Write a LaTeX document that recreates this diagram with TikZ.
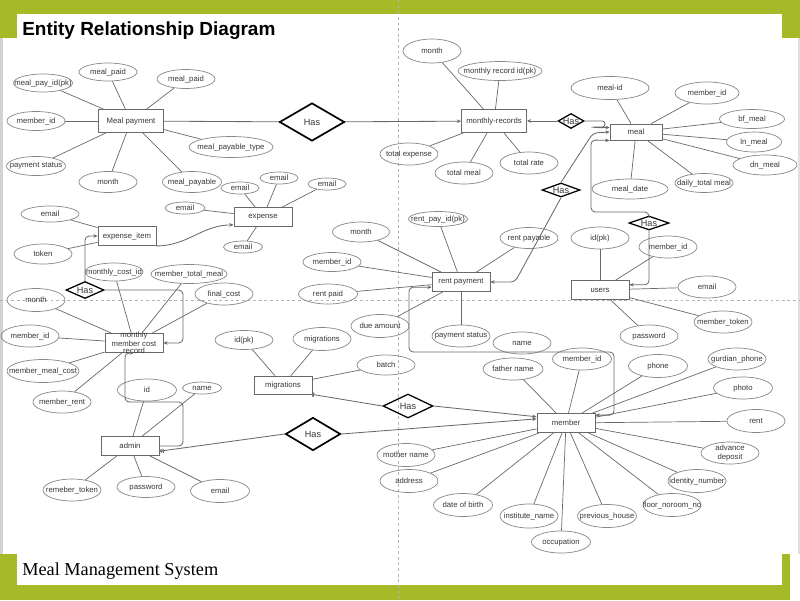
\documentclass[tikz,border=0pt]{standalone}
\usepackage{fontspec}
\usetikzlibrary{shapes.geometric,arrows.meta}
\newfontfamily\erfont{Liberation Sans}
\newfontfamily\slidefont{Liberation Serif}

\definecolor{slidegreen}{RGB}{166,185,38}
\definecolor{edgegray}{RGB}{105,105,105}
\definecolor{ovalgray}{RGB}{135,135,135}
\definecolor{txtgray}{RGB}{55,55,55}
\definecolor{guidegray}{RGB}{180,180,180}

\tikzset{
  fixtext/.style={execute at begin node={\hbox to 0pt\bgroup\hss}, execute at end node={\hss\egroup}},
  attr/.style={ellipse, draw=ovalgray, line width=0.5pt, minimum width=1.45cm, minimum height=0.55cm,
    inner sep=0pt, text=txtgray, fixtext},
  entity/.style={rectangle, draw=edgegray, line width=0.6pt, minimum width=1.45cm, minimum height=0.475cm,
    inner sep=0pt, text=txtgray, fixtext},
  rel/.style={diamond, draw=black, line width=0.9pt, inner sep=0pt, text=txtgray,
    font=\erfont\fontsize{6.5}{7}\selectfont, fixtext},
  attrlink/.style={draw=edgegray, line width=0.5pt},
  conn/.style={draw=edgegray, line width=0.6pt, rounded corners=3pt},
  guide/.style={draw=guidegray, line width=0.5pt, dash pattern=on 2pt off 2pt},
}

\begin{document}
\begin{tikzpicture}[x=0.025cm, y=-0.025cm, >={Stealth[length=3pt,width=2.6pt]},
  every node/.style={font=\erfont\fontsize{5.5}{6}\selectfont}]
\useasboundingbox (0,0) rectangle (800,600);

% slide frame
\fill[white] (0,0) rectangle (800,600);
\fill[gray!35] (0,38) rectangle (2.5,554);
\fill[gray!25] (798,38) rectangle (800,554);
\fill[slidegreen] (0,0) rectangle (800,14);
\fill[slidegreen] (0,0) rectangle (17,38);
\fill[slidegreen] (782,0) rectangle (800,38);
\fill[slidegreen] (0,585) rectangle (790,600);
\fill[slidegreen] (0,554) rectangle (17,600);
\fill[slidegreen] (782,554) rectangle (790,600);
\draw[guide] (398,0) -- (398,600);
\draw[guide] (0,300) -- (800,300);

\node[anchor=base west, inner sep=0pt, font=\erfont\bfseries\fontsize{13.5}{15}\selectfont] (title) at (22,35) {Entity Relationship Diagram};
\node[anchor=base west, inner sep=0pt, font=\slidefont\fontsize{13}{15}\selectfont] (subtitle) at (22,575) {Meal Management System};

% entities
\node[entity, minimum width=1.625cm, minimum height=0.575cm] (mpay) at (131,121) {Meal payment};
\node[entity, minimum width=1.625cm, minimum height=0.575cm] (mrec) at (494,121) {monthly-records};
\node[entity, minimum width=1.3cm, minimum height=0.4cm] (meal) at (636,132) {meal};
\node[entity] (expense) at (263,217) {expense};
\node[entity] (eitem) at (127,236) {expense\_item};
\node[entity] (rpay) at (461,282) {rent payment};
\node[entity] (users) at (600,290) {users};
\node[entity, label={[align=center, text=txtgray, font=\erfont\fontsize{5.5}{5}\selectfont]center:{monthly\\member cost\\record}}] (mmcr) at (134,343) {};
\node[entity, minimum height=0.45cm] (migr) at (283,385) {migrations};
\node[entity] (admin) at (130,446) {admin};
\node[entity] (member) at (566,423) {member};

% relationships
\node[rel, line width=1.2pt, minimum width=1.625cm, minimum height=0.95cm] (has1) at (312,122) {Has};
\node[rel, minimum width=0.65cm, minimum height=0.375cm] (has2) at (571,121) {Has};
\node[rel, minimum width=0.95cm, minimum height=0.35cm] (has3) at (561,190) {Has};
\node[rel, minimum width=1.0cm, minimum height=0.35cm] (has4) at (649,223) {Has};
\node[rel, minimum width=0.95cm, minimum height=0.425cm] (has5) at (85,290) {Has};
\node[rel, minimum width=1.25cm, minimum height=0.6cm] (has6) at (408,406) {Has};
\node[rel, line width=1.2pt, minimum width=1.375cm, minimum height=0.825cm] (has7) at (313,434) {Has};

% Meal payment attributes
\node[attr, minimum width=1.475cm, minimum height=0.45cm] (mpid) at (43,83) {meal\_pay\_id(pk)};
\node[attr, minimum height=0.45cm] (mppaidA) at (108,72) {meal\_paid};
\node[attr, minimum height=0.475cm] (mppaidB) at (186,79) {meal\_paid};
\node[attr, minimum height=0.475cm] (mpmem) at (36,121) {member\_id};
\node[attr, minimum width=1.475cm, minimum height=0.475cm] (mpstat) at (36,166) {payment status};
\node[attr, minimum height=0.525cm] (mpmonth) at (108,182) {month};
\node[attr, minimum width=1.475cm, minimum height=0.525cm] (mppay) at (192,182) {meal\_payable};
\node[attr, minimum width=2.1cm, minimum height=0.525cm] (mptype) at (231,147) {meal\_payable\_type};
\foreach \a in {mpid,mppaidA,mppaidB,mpmem,mpstat,mpmonth,mppay,mptype}
  \path[attrlink] (\a) edge (mpay);

% monthly-records attributes
\node[attr, minimum height=0.6cm] (mrmonth) at (432,51) {month};
\node[attr, minimum width=2.1cm, minimum height=0.475cm] (mrid) at (500,71) {monthly record id(pk)};
\node[attr] (mrexp) at (409,154) {total expense};
\node[attr] (mrmeal) at (464,173) {total meal};
\node[attr] (mrrate) at (529,163) {total rate};
\foreach \a in {mrmonth,mrid,mrexp,mrmeal,mrrate}
  \path[attrlink] (\a) edge (mrec);

% meal attributes
\node[attr, minimum width=1.95cm, minimum height=0.575cm] (mlid) at (610,88) {meal-id};
\node[attr, minimum width=1.6cm] (mlmem) at (707,93) {member\_id};
\node[attr, minimum width=1.625cm, minimum height=0.475cm] (mlbf) at (752,119) {bf\_meal};
\node[attr, minimum width=1.375cm, minimum height=0.5cm] (mlln) at (754,142) {ln\_meal};
\node[attr, minimum width=1.6cm, minimum height=0.5cm] (mldn) at (765,165) {dn\_meal};
\node[attr, minimum height=0.475cm] (mltotal) at (704,183) {daily\_total meal};
\node[attr, minimum width=1.9cm, minimum height=0.5cm] (mldate) at (630,189) {meal\_date};
\foreach \a in {mlid,mlmem,mlbf,mlln,mldn,mltotal,mldate}
  \path[attrlink] (\a) edge (meal);

% expense attributes
\node[attr, minimum width=1.0cm, minimum height=0.3cm] (exA) at (185,208) {email};
\node[attr, minimum width=0.95cm, minimum height=0.3cm] (exB) at (240,188) {email};
\node[attr, minimum width=0.95cm, minimum height=0.3cm] (exC) at (279,178) {email};
\node[attr, minimum width=0.95cm, minimum height=0.3cm] (exD) at (327,184) {email};
\node[attr, minimum width=0.975cm, minimum height=0.3cm] (exE) at (243,247) {email};
\foreach \a in {exA,exB,exC,exD,exE}
  \path[attrlink] (\a) edge (expense);

% expense_item attributes
\node[attr, minimum height=0.4cm] (eimail) at (50,214) {email};
\node[attr, minimum height=0.5cm] (eitoken) at (43,254) {token};
\foreach \a in {eimail,eitoken}
  \path[attrlink] (\a) edge (eitem);

% monthly member cost record attributes
\node[attr, minimum height=0.45cm] (mcid) at (114,272) {monthly\_cost\_id};
\node[attr, minimum width=1.9cm, minimum height=0.475cm] (mctotal) at (189,274) {member\_total\_meal};
\node[attr] (mcfinal) at (224,294) {final\_cost};
\node[attr, minimum height=0.575cm] (mcmonth) at (36,300) {month};
\node[attr] (mcmem) at (30,336) {member\_id};
\node[attr, minimum width=1.8cm, minimum height=0.575cm] (mcmeal) at (43,371) {member\_meal\_cost};
\node[attr] (mcrent) at (62,402) {member\_rent};
\foreach \a in {mcid,mctotal,mcfinal,mcmonth,mcmem,mcmeal,mcrent}
  \path[attrlink] (\a) edge (mmcr);

% migrations attributes
\node[attr, minimum height=0.475cm] (mgid) at (244,340) {id(pk)};
\node[attr, minimum height=0.575cm] (mgmig) at (322,339) {migrations};
\node[attr, minimum height=0.5cm] (mgbatch) at (386,365) {batch};
\foreach \a in {mgid,mgmig,mgbatch}
  \path[attrlink] (\a) edge (migr);

% admin attributes
\node[attr, minimum width=1.475cm] (adid) at (147,390) {id};
\node[attr, minimum width=0.975cm, minimum height=0.3cm] (adname) at (202,388) {name};
\node[attr] (adtoken) at (72,490) {remeber\_token};
\node[attr, minimum height=0.525cm] (adpass) at (146,487) {password};
\node[attr, minimum width=1.475cm, minimum height=0.575cm] (admail) at (220,491) {email};
\foreach \a in {adid,adname,adtoken,adpass,admail}
  \path[attrlink] (\a) edge (admin);

% rent payment attributes
\node[attr, minimum width=1.425cm, minimum height=0.5cm] (rpmonth) at (361,232) {month};
\node[attr, minimum height=0.475cm] (rpmem) at (332,262) {member\_id};
\node[attr, minimum width=1.475cm, minimum height=0.5cm] (rppaid) at (328,294) {rent paid};
\node[attr, minimum width=1.475cm, minimum height=0.375cm] (rpid) at (438,219) {rent\_pay\_id(pk)};
\node[attr, minimum height=0.525cm] (rppay) at (529,238) {rent payable};
\node[attr, minimum height=0.575cm] (rpdue) at (380,326) {due amount};
\node[attr] (rpstat) at (461,336) {payment status};
\foreach \a in {rpmonth,rpmem,rppaid,rpid,rppay,rpdue,rpstat}
  \path[attrlink] (\a) edge (rpay);

% users attributes
\node[attr] (usid) at (600,238) {id(pk)};
\node[attr] (usmem) at (668,247) {member\_id};
\node[attr] (usmail) at (707,287) {email};
\node[attr] (ustoken) at (723,322) {member\_token};
\node[attr] (uspass) at (649,336) {password};
\foreach \a in {usid,usmem,usmail,ustoken,uspass}
  \path[attrlink] (\a) edge (users);

% member attributes
\node[attr] (mbname) at (522,343) {name};
\node[attr, minimum width=1.475cm] (mbid) at (582,359) {member\_id};
\node[attr, minimum width=1.5cm] (mbfather) at (513,369) {father name};
\node[attr, minimum width=1.475cm, minimum height=0.575cm] (mbphone) at (658,366) {phone};
\node[attr] (mbguard) at (737,359) {gurdian\_phone};
\node[attr, minimum width=1.475cm] (mbphoto) at (743,388) {photo};
\node[attr, minimum height=0.575cm] (mbrent) at (756,421) {rent};
\node[attr, label={[align=center, text=txtgray, font=\erfont\fontsize{5.5}{6}\selectfont]center:{advance\\deposit}}] (mbdep) at (730,453) {};
\node[attr, minimum height=0.575cm] (mbident) at (697,481) {identity\_number};
\node[attr, minimum height=0.575cm] (mbfloor) at (672,505) {floor\_noroom\_no};
\node[attr, minimum width=1.475cm, minimum height=0.575cm] (mbprev) at (607,516) {previous\_house};
\node[attr, minimum width=1.475cm] (mbocc) at (561,542) {occupation};
\node[attr, minimum height=0.6cm] (mbinst) at (529,516) {institute\_name};
\node[attr, minimum width=1.475cm, minimum height=0.575cm] (mbbirth) at (463,505) {date of birth};
\node[attr, minimum height=0.575cm] (mbaddr) at (409,481) {address};
\node[attr, minimum height=0.575cm] (mbmother) at (406,455) {mother name};
\foreach \a in {mbid,mbfather,mbphone,mbguard,mbphoto,mbrent,mbdep,mbident,mbfloor,mbprev,mbocc,mbinst,mbbirth,mbaddr,mbmother}
  \path[attrlink] (\a) edge (member);

% bends of the relationship lines
\coordinate (bendA) at (593,133);
\coordinate (bendB) at (515,282);
\coordinate (bendC) at (591,140);
\coordinate (bendD) at (591,212);
\coordinate (bendF) at (183,290);
\coordinate (bendG) at (183,402);
\coordinate (bendH) at (125,402);
\coordinate (bendJ) at (409,352);
\coordinate (bendK) at (614,352);
\coordinate (loopA) at (598,121);
\coordinate (loopB) at (598,127);

% relationship lines
\draw[conn] (mpay) -- (has1);
\draw[conn, ->] (has1) -- (mrec);
\draw[conn, <-] (mrec) -- (has2);
\draw[conn, ->] (has2.east) -- (loopA) .. controls (606,121) and (606,127) .. (loopB)
  .. controls (591,127) and (596,128) .. (meal.170);
\draw[conn, <-] (meal.west) -- (bendA) -- (has3.north);
\draw[conn, ->] (has3.south) -- (bendB) -- (rpay.east);
\draw[conn, <-] (meal.south west) -- (bendC) -- (bendD) -| (has4.north);
\draw[conn, ->] (has4.south) |- (users.10);
\draw[conn, ->] (has5.north) |- (eitem.west);
\draw[conn, ->] (has5.east) -- (bendF) |- (mmcr.east);
\draw[conn, ->] (admin.east) -| (bendG) -- (bendH) |- (mmcr.south);
\draw[conn, <->] (rpay.190) -| (bendJ) -- (bendK) |- (member.15);
\draw[conn, {Bar[width=3pt]Bar[width=3pt]}-] (migr.south east) -- (has6.west);
\draw[conn, ->] (has6.east) -- (member.168);
\draw[conn, {Circle[open,length=2.5pt,width=2.5pt]Bar[width=3pt]}-] (admin.-10) -- (has7.west);
\draw[conn, ->] (has7.east) -- (member.172);
\draw[conn, ->] (eitem.south east) to[out=0, in=180] (expense.195);
\end{tikzpicture}
\end{document}
